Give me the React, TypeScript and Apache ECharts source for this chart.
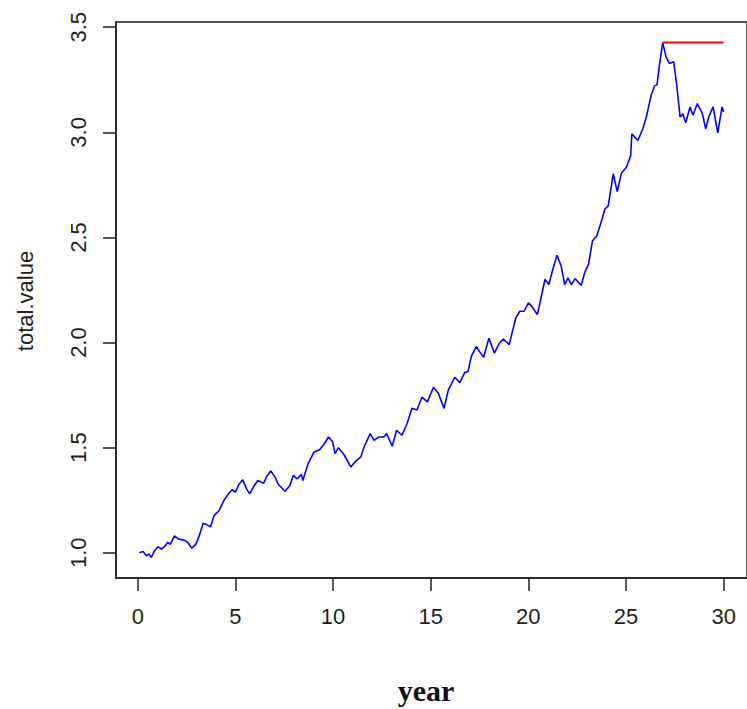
import React, { useEffect, useRef } from "react";
import * as echarts from "echarts";

const years: number[] = [
  0.08, 0.27, 0.44, 0.57, 0.69, 0.86, 1.03, 1.2, 1.37, 1.54, 1.66, 1.88, 2.09, 2.38, 2.55, 2.77, 2.97,
  3.14, 3.35, 3.51, 3.73, 3.9, 4.16, 4.41, 4.66, 4.83, 5.0, 5.17, 5.37, 5.56, 5.73, 5.93, 6.15, 6.44,
  6.6, 6.81, 7.03, 7.2, 7.54, 7.79, 7.96, 8.16, 8.38, 8.45, 8.72, 9.02, 9.31, 9.56, 9.77, 9.98, 10.1,
  10.27, 10.58, 10.91, 11.12, 11.42, 11.59, 11.9, 12.1, 12.35, 12.6, 12.74, 13.03, 13.25, 13.53, 13.79,
  14.04, 14.29, 14.55, 14.83, 15.14, 15.39, 15.68, 15.9, 16.23, 16.49, 16.74, 16.91, 17.08, 17.33, 17.5,
  17.71, 17.98, 18.26, 18.52, 18.72, 19.02, 19.16, 19.36, 19.56, 19.78, 20.0, 20.2, 20.46, 20.63, 20.85,
  21.05, 21.25, 21.47, 21.68, 21.86, 22.03, 22.2, 22.4, 22.71, 22.88, 23.08, 23.28, 23.5, 23.72, 23.92,
  24.09, 24.35, 24.55, 24.77, 25.02, 25.24, 25.3, 25.61, 25.86, 26.04, 26.29, 26.46, 26.59, 26.71, 26.88,
  27.05, 27.22, 27.44, 27.6, 27.77, 27.91, 28.06, 28.28, 28.43, 28.65, 28.91, 29.08, 29.24, 29.46, 29.7,
  29.92, 30.0,
];

const totalValue: number[] = [
  1.0, 1.006, 0.986, 0.994, 0.978, 1.01, 1.029, 1.018, 1.029, 1.05, 1.04, 1.08, 1.065, 1.06, 1.05, 1.022, 1.04,
  1.08, 1.14, 1.134, 1.124, 1.177, 1.2, 1.249, 1.283, 1.3, 1.288, 1.325, 1.348, 1.305, 1.28, 1.315, 1.344, 1.33,
  1.363, 1.389, 1.36, 1.325, 1.293, 1.32, 1.368, 1.352, 1.373, 1.344, 1.424, 1.479, 1.49, 1.52, 1.551, 1.527, 1.472,
  1.5, 1.464, 1.408, 1.432, 1.456, 1.503, 1.567, 1.535, 1.551, 1.551, 1.567, 1.507, 1.583, 1.559, 1.615,
  1.687, 1.679, 1.74, 1.718, 1.787, 1.759, 1.687, 1.774, 1.835, 1.809, 1.857, 1.862, 1.934, 1.981, 1.957,
  1.93, 2.021, 1.95, 1.998, 2.017, 1.99, 2.045, 2.117, 2.149, 2.149, 2.189, 2.17, 2.133, 2.205, 2.3,
  2.276, 2.348, 2.415, 2.364, 2.276, 2.308, 2.276, 2.304, 2.272, 2.332, 2.372, 2.483, 2.507, 2.571, 2.635,
  2.651, 2.802, 2.718, 2.807, 2.834, 2.89, 2.993, 2.961, 3.017, 3.073, 3.176, 3.221, 3.227, 3.319, 3.427,
  3.359, 3.328, 3.336, 3.224, 3.073, 3.089, 3.046, 3.121, 3.081, 3.137, 3.089, 3.017, 3.073, 3.121, 2.998,
  3.121, 3.097,
];

const xTicks: number[] = [0, 5, 10, 15, 20, 25, 30];
const yTicks: number[] = [1.0, 1.5, 2.0, 2.5, 3.0, 3.5];

export default function App() {
  const ref = useRef<HTMLDivElement>(null);
  useEffect(() => {
    if (!ref.current) return;
    const chart = echarts.init(ref.current, undefined, { renderer: "svg" });
    const line = years.map((y, i) => [y, totalValue[i]]);
    let peakIdx = 0;
    totalValue.forEach((v, i) => {
      if (v > totalValue[peakIdx]) peakIdx = i;
    });
    const peak = totalValue[peakIdx];
    const lastYear = years[years.length - 1];
    const firstYear = years[0];
    const xr = lastYear - firstYear;
    const ymin = Math.min(...totalValue);
    const yr = peak - ymin;
    const sans = "Liberation Sans, Arial, sans-serif";
    const ink = "#1e1e1e";
    const tickLen = 13;
    chart.setOption({
      animation: false,
      grid: {
        left: 116,
        top: 22,
        right: -7,
        bottom: 131,
        show: true,
        borderColor: ink,
        borderWidth: 1.5,
        backgroundColor: "transparent",
      },
      xAxis: {
        type: "value",
        min: firstYear - 0.04 * xr,
        max: lastYear + 0.04 * xr,
        axisLine: { show: true, onZero: false, lineStyle: { color: ink, width: 1.5 } },
        splitLine: { show: false },
        axisTick: {
          show: true,
          length: tickLen,
          customValues: xTicks,
          lineStyle: { color: ink, width: 1.5 },
        },
        axisLabel: {
          customValues: xTicks,
          margin: 27,
          fontSize: 22,
          fontFamily: sans,
          color: ink,
          formatter: (v: number) => String(v),
        },
      },
      yAxis: {
        type: "value",
        min: ymin - 0.04 * yr,
        max: peak + 0.04 * yr,
        axisLine: { show: true, onZero: false, lineStyle: { color: ink, width: 1.5 } },
        splitLine: { show: false },
        axisTick: {
          show: true,
          length: tickLen,
          customValues: yTicks,
          lineStyle: { color: ink, width: 1.5 },
        },
        axisLabel: {
          customValues: yTicks,
          rotate: 90,
          margin: 27,
          fontSize: 22,
          fontFamily: sans,
          color: ink,
          formatter: (v: number) => v.toFixed(1),
        },
      },
      graphic: [
        {
          type: "text",
          x: 25,
          y: 301,
          rotation: Math.PI / 2,
          style: {
            text: "total.value",
            fontSize: 22,
            fontFamily: sans,
            fill: ink,
            textAlign: "center",
            textVerticalAlign: "middle",
          },
        },
        {
          type: "text",
          x: 426,
          y: 690,
          style: {
            text: "year",
            fontSize: 30,
            fontWeight: "bold",
            fontFamily: "Liberation Serif, Times New Roman, serif",
            fill: "#111",
            textAlign: "center",
            textVerticalAlign: "middle",
          },
        },
      ],
      series: [
        {
          type: "line",
          data: line,
          symbol: "none",
          lineStyle: { color: "#0000ff", width: 1.6 },
          silent: true,
        },
        {
          type: "line",
          data: [
            [years[peakIdx], peak],
            [lastYear, peak],
          ],
          symbol: "none",
          lineStyle: { color: "#ff0000", width: 2 },
          silent: true,
        },
      ],
    });
    return () => chart.dispose();
  }, []);
  return (
    <div
      ref={ref}
      style={{ position: "fixed", left: 0, top: 0, width: 747, height: 709, background: "#fff" }}
    />
  );
}
